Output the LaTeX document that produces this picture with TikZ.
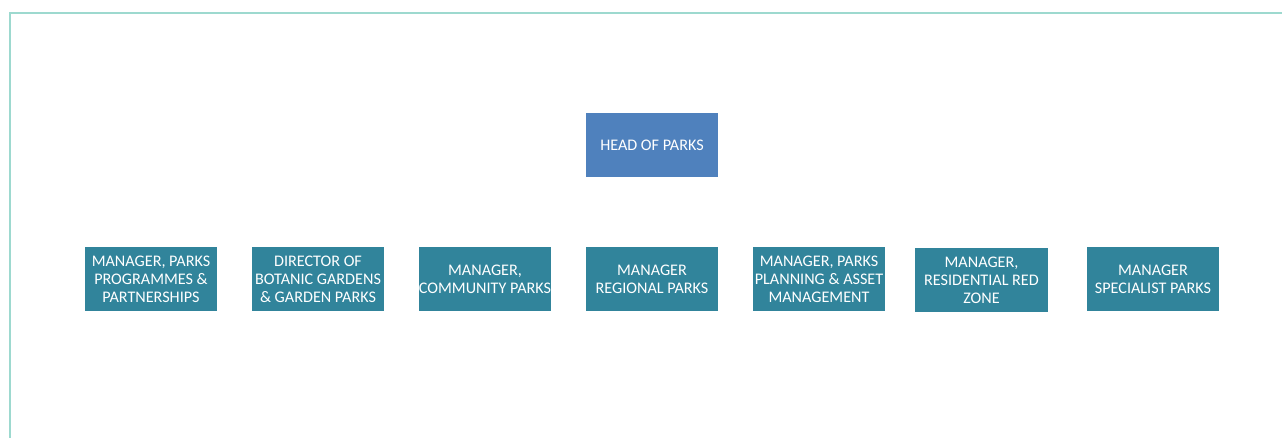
\documentclass[tikz,border=0pt]{standalone}
\usepackage{fontspec}
\setmainfont{Carlito}
\usetikzlibrary{positioning}

\definecolor{headblue}{HTML}{4F81BD}
\definecolor{unitteal}{HTML}{31849B}
\definecolor{framegreen}{HTML}{9DD9CF}

\tikzset{
    orgbox/.style={fill=#1, draw=none, text=white, align=center,
        minimum width=2.65cm, minimum height=1.29cm, inner sep=0pt, outer sep=0pt,
        font=\fontsize{9.2}{10.2}\selectfont},
    orgbox/.default=unitteal
}

\begin{document}
\begin{tikzpicture}
    \useasboundingbox (0,0) rectangle (25.64,-8.76);
    \draw[framegreen, line width=1.2pt](0.2,-8.8)--(0.2,-0.26)--(25.7,-0.26);

    \node[orgbox=headblue] (head) at (13.04,-2.9) {HEAD OF PARKS};

    \node[orgbox] (regional) at (13.04,-5.58) {MANAGER\\REGIONAL PARKS};
    \node[orgbox, left=0.69cm of regional] (community) {MANAGER,\\COMMUNITY PARKS};
    \node[orgbox, left=0.69cm of community] (botanic) {DIRECTOR OF\\BOTANIC GARDENS\\\& GARDEN PARKS};
    \node[orgbox, left=0.69cm of botanic] (programmes) {MANAGER, PARKS\\PROGRAMMES \&\\PARTNERSHIPS};
    \node[orgbox, right=0.69cm of regional] (planning) {MANAGER, PARKS\\PLANNING \& ASSET\\MANAGEMENT};
    \node[orgbox, right=0.6cm of planning, yshift=-0.02cm] (redzone) {MANAGER,\\RESIDENTIAL RED\\ZONE};
    \node[orgbox, right=0.78cm of redzone, yshift=0.02cm] (specialist) {MANAGER\\SPECIALIST PARKS};
\end{tikzpicture}
\end{document}
